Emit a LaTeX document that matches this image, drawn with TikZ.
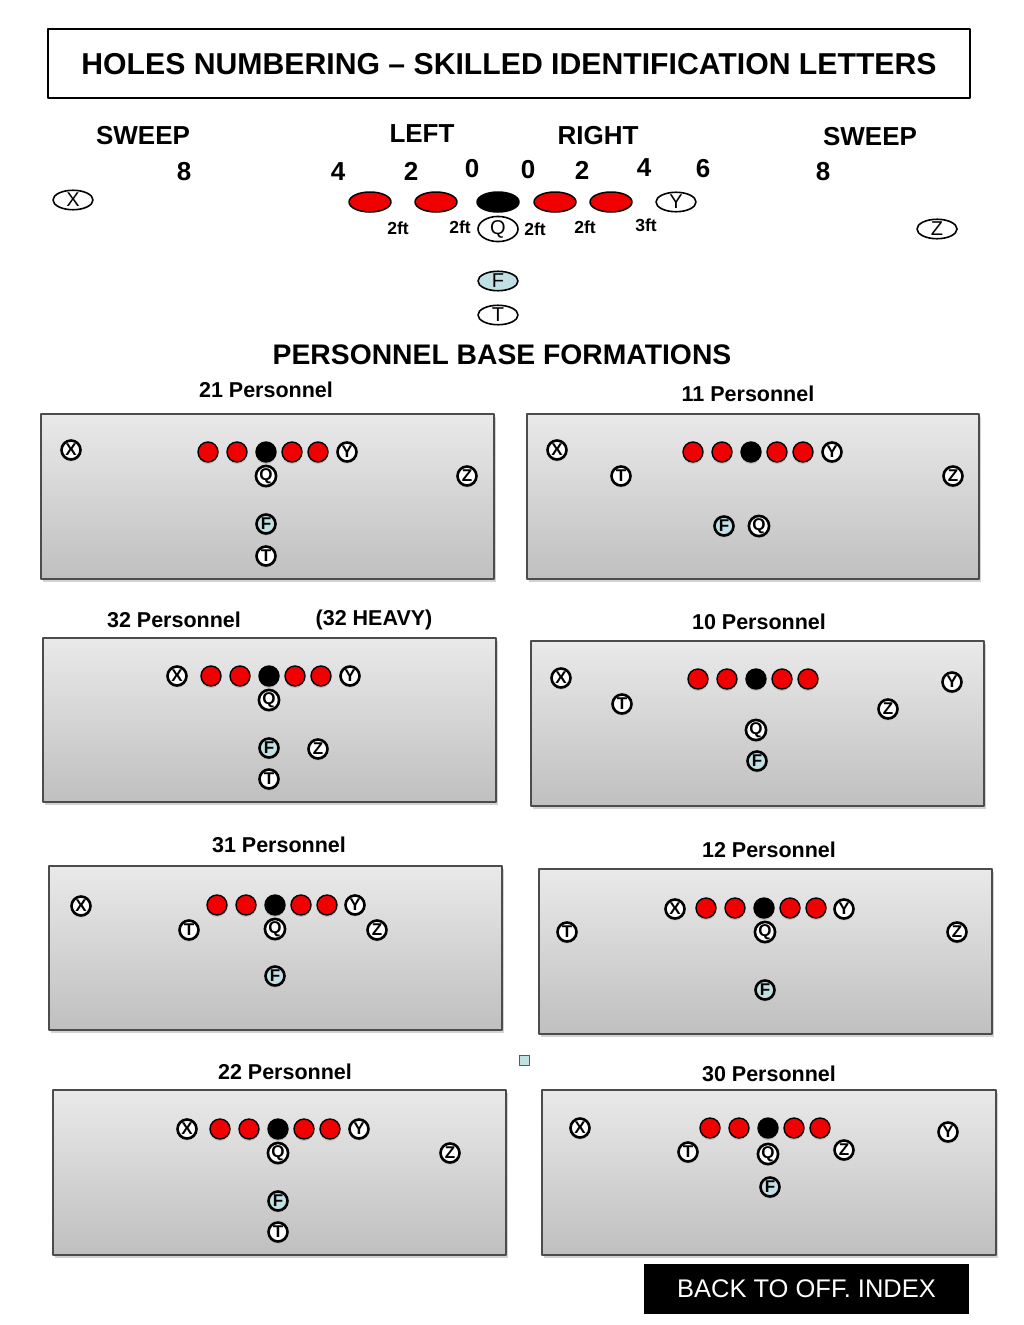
\documentclass[tikz,border=0pt]{standalone}
\usepackage{fontspec}
\setmainfont{Liberation Sans}
\usetikzlibrary{shapes.geometric,shadows}

\definecolor{fback}{RGB}{192,224,228}
\definecolor{holered}{RGB}{240,0,0}

\begin{document}
\begin{tikzpicture}[x=1pt, y=-1pt, line join=round,
  holeov/.style={ellipse,draw=black,line width=1.5pt,fill=holered,minimum width=42pt,minimum height=20pt,inner sep=0pt},
  idtag/.style={ellipse,draw=black,line width=1.6pt,fill=white,minimum width=40pt,minimum height=18pt,inner sep=0pt,font=\fontsize{20}{20}\selectfont},
  lineman/.style={circle,draw=black,line width=1.4pt,fill=holered,minimum size=20pt,inner sep=0pt,
    drop shadow={opacity=0.3,shadow xshift=0pt,shadow yshift=-2pt}},
  snap/.style={lineman,fill=black},
  player/.style={circle,draw=black,line width=2.6pt,fill=white,minimum size=19pt,inner sep=0pt,
    font=\fontsize{17}{17}\selectfont\bfseries,drop shadow={opacity=0.3,shadow xshift=0pt,shadow yshift=-2pt}},
  fback/.style={player,fill=fback},
  panel/.style={draw=gray!60!black,line width=1.4pt,top color=gray!17,bottom color=gray!50,
    drop shadow={opacity=0.35,shadow xshift=1.5pt,shadow yshift=-2.5pt}},
  ptitle/.style={font=\bfseries\fontsize{21.5}{22}\selectfont},
  big/.style={font=\bfseries\fontsize{26}{26}\selectfont},
  feet/.style={font=\bfseries\fontsize{17.5}{18}\selectfont}]

\useasboundingbox (0,0) rectangle (1024,1325);

% --- Title ---
\draw[line width=2.2pt] (48,29) rectangle (970,98);
\node[font=\bfseries\fontsize{30.2}{31}\selectfont] (title) at (509,64) {HOLES NUMBERING – SKILLED IDENTIFICATION LETTERS};

% --- Hole numbers ---
\node[big] (sweepL) at (143,136) {SWEEP};
\node[big] (left)   at (422,134) {LEFT};
\node[big] (right)  at (598,136) {RIGHT};
\node[big] (sweepR) at (870,137) {SWEEP};
\node[big] (h8L) at (184,172) {8};
\node[big] (h4L) at (338,172) {4};
\node[big] (h2L) at (411,171) {2};
\node[big] (h0L) at (472,169) {0};
\node[big] (h0R) at (528,170) {0};
\node[big] (h2R) at (582,170) {2};
\node[big] (h4R) at (644,168) {4};
\node[big] (h6R) at (703,169) {6};
\node[big] (h8R) at (823,172) {8};

% --- Line and splits ---
\node[holeov] (lt) at (370,202) {};
\node[holeov] (lg) at (436,202) {};
\node[holeov,fill=black] (c) at (498,202) {};
\node[holeov] (rg) at (555,202) {};
\node[holeov] (rt) at (611,202) {};
\node[idtag] (y) at (676,202) {Y};
\node[idtag] (x) at (73,200) {X};
\node[idtag] (z) at (937,229) {Z};
\node[idtag] (q) at (498,229) {Q};
\node[idtag,fill=fback] (f) at (498,281) {F};
\node[idtag] (t) at (498,315) {T};
\node[feet] (s1) at (398,228) {2ft};
\node[feet] (s2) at (460,227) {2ft};
\node[feet] (s3) at (535,229) {2ft};
\node[feet] (s4) at (585,227) {2ft};
\node[feet] (s5) at (646,225) {3ft};

\node[font=\bfseries\fontsize{28.3}{29}\selectfont] (base) at (502,355) {PERSONNEL BASE FORMATIONS};

% offensive line: prefix, x of center, y
\def\oline#1#2#3{%
  \foreach \dx [count=\i] in {-58,-29,26,52}
    {\node[lineman] (#1L\i) at ({#2+\dx},#3) {};}
  \node[snap] (#1C) at (#2,#3) {};}

% --- 21 Personnel ---
\node[ptitle] (t21) at (266,390) {21 Personnel};
\path[panel] (41,414) rectangle (494,579);
\oline{f21}{266}{452}
\node[player] (f21X) at (71,450) {X};
\node[player] (f21Y) at (347,452) {Y};
\node[player] (f21Q) at (266,476) {Q};
\node[player] (f21Z) at (467,476) {Z};
\node[fback]  (f21F) at (266,524) {F};
\node[player] (f21T) at (266,556) {T};

% --- 11 Personnel ---
\node[ptitle] (t11) at (748,394) {11 Personnel};
\path[panel] (527,414) rectangle (979,579);
\oline{f11}{751}{452}
\node[player] (f11X) at (557,450) {X};
\node[player] (f11Y) at (832,452) {Y};
\node[player] (f11T) at (621,476) {T};
\node[player] (f11Z) at (953,476) {Z};
\node[fback]  (f11F) at (724,526) {F};
\node[player] (f11Q) at (759,526) {Q};

% --- 32 Personnel ---
\node[ptitle] (t32) at (174,620) {32 Personnel};
\node[ptitle] (t32h) at (374,620) {(32 HEAVY)};
\path[panel] (43,638) rectangle (496,802);
\oline{f32}{269}{676}
\node[player] (f32X) at (177,676) {X};
\node[player] (f32Y) at (350,676) {Y};
\node[player] (f32Q) at (269,700) {Q};
\node[fback]  (f32F) at (269,748) {F};
\node[player] (f32Z) at (318,749) {Z};
\node[player] (f32T) at (269,779) {T};

% --- 10 Personnel ---
\node[ptitle] (t10) at (759,622) {10 Personnel};
\path[panel] (531,641) rectangle (984,806);
\oline{f10}{756}{679}
\node[player] (f10X) at (561,678) {X};
\node[player] (f10Y) at (952,682) {Y};
\node[player] (f10T) at (622,704) {T};
\node[player] (f10Z) at (888,709) {Z};
\node[player] (f10Q) at (756,730) {Q};
\node[fback]  (f10F) at (757,761) {F};

% --- 31 Personnel ---
\node[ptitle] (t31) at (279,845) {31 Personnel};
\path[panel] (49,866) rectangle (502,1030);
\oline{f31}{275}{905}
\node[player] (f31X) at (81,906) {X};
\node[player] (f31Y) at (355,905) {Y};
\node[player] (f31T) at (189,930) {T};
\node[player] (f31Q) at (275,929) {Q};
\node[player] (f31Z) at (377,930) {Z};
\node[fback]  (f31F) at (275,976) {F};

% --- 12 Personnel ---
\node[ptitle] (t12) at (769,850) {12 Personnel};
\path[panel] (539,869) rectangle (992,1034);
\oline{f12}{764}{908}
\node[player] (f12X) at (675,909) {X};
\node[player] (f12Y) at (844,909) {Y};
\node[player] (f12T) at (567,932) {T};
\node[player] (f12Q) at (765,932) {Q};
\node[player] (f12Z) at (957,932) {Z};
\node[fback]  (f12F) at (765,990) {F};

% --- 22 Personnel ---
\node[ptitle] (t22) at (285,1072) {22 Personnel};
\path[panel] (53,1090) rectangle (506,1255);
\oline{f22}{278}{1129}
\node[player] (f22X) at (187,1129) {X};
\node[player] (f22Y) at (359,1129) {Y};
\node[player] (f22Q) at (278,1153) {Q};
\node[player] (f22Z) at (450,1153) {Z};
\node[fback]  (f22F) at (278,1201) {F};
\node[player] (f22T) at (278,1232) {T};

% --- 30 Personnel ---
\node[ptitle] (t30) at (769,1074) {30 Personnel};
\path[panel] (542,1090) rectangle (996,1255);
\oline{f30}{768}{1128}
\node[player] (f30X) at (580,1128) {X};
\node[player] (f30Y) at (948,1132) {Y};
\node[player] (f30T) at (688,1152) {T};
\node[player] (f30Q) at (768,1154) {Q};
\node[player] (f30Z) at (844,1150) {Z};
\node[fback]  (f30F) at (770,1187) {F};

% stray marker
\draw[gray!70!black,fill=fback,line width=0.8pt] (519,1055) rectangle (529,1065);

% --- Back button ---
\node[fill=black,text=white,minimum width=325pt,minimum height=50pt,inner sep=0pt,
  font=\fontsize{25.5}{26}\selectfont] (backbtn) at (806.5,1289) {BACK TO OFF. INDEX};

\end{tikzpicture}
\end{document}
